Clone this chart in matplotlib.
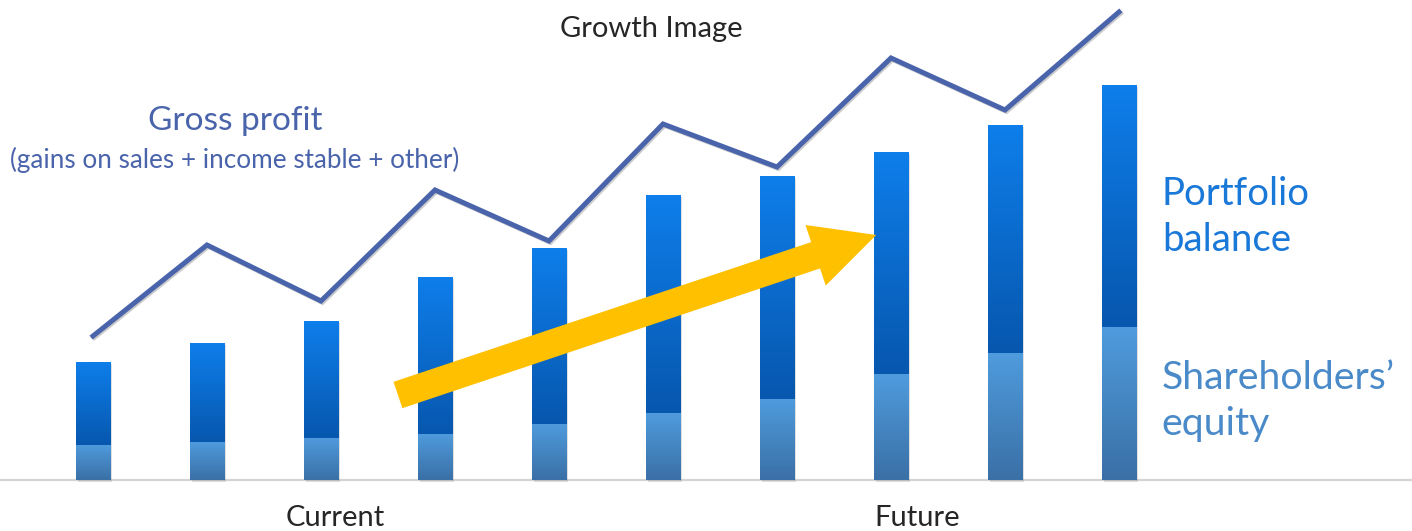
import matplotlib.pyplot as plt
import matplotlib.patheffects as pe
import numpy as np

# values (pixel heights above the baseline)
periods = np.arange(10)
equity = [35, 38, 42, 46, 56, 67, 81, 106, 127, 153]
portfolio_total = [118, 137, 159, 203, 232, 285, 304, 328, 355, 395]
gross_profit = [144, 235, 179, 290, 239, 356, 313, 422, 370, 468]
arrow_from = (2.675, 85)
arrow_to = (6.87, 245)

line_col = '#4A64AC'
font = ['Lato', 'DejaVu Sans']
plt.rcParams['font.family'] = font

fig = plt.figure(figsize=(14.12, 5.31), dpi=100)
ax = fig.add_axes([0, 0, 1, 1])
ax.set_xlim(-93 / 114, (1412 - 93) / 114)
ax.set_ylim(-51, 480)
ax.axis('off')


def grad_fill(bar, c_top, c_bot, zorder):
    x0, y0 = bar.get_x(), bar.get_y()
    w, h = bar.get_width(), bar.get_height()
    t = np.linspace(0, 1, 64)[:, None]
    ct = np.array(plt.matplotlib.colors.to_rgb(c_top))
    cb = np.array(plt.matplotlib.colors.to_rgb(c_bot))
    img = (ct * (1 - t) + cb * t)[:, None, :].repeat(2, axis=1)
    im = ax.imshow(img, extent=[x0, x0 + w, y0, y0 + h], aspect='auto',
                   origin='upper', zorder=zorder, interpolation='bilinear')
    im.set_clip_path(bar)


# baseline
ax.axhline(0, color='#d4d4d4', lw=1.6, zorder=1)

shadow = [pe.SimplePatchShadow(offset=(1.5, -1.5), alpha=0.18, shadow_rgbFace='#555555'), pe.Normal()]
top_part = [t - e for t, e in zip(portfolio_total, equity)]
b1 = ax.bar(periods, equity, width=0.3, color='#4A8ED4', zorder=2, path_effects=shadow)
b2 = ax.bar(periods, top_part, bottom=equity, width=0.3, color='#0B6AD0', zorder=2, path_effects=shadow)
for bar in b1:
    grad_fill(bar, '#4F9BDD', '#3A70A6', 3)
for bar in b2:
    grad_fill(bar, '#0E7EEA', '#0757AE', 3)

ax.plot(periods, gross_profit, color=line_col, lw=3.6, zorder=4, solid_joinstyle='miter',
        path_effects=[pe.SimpleLineShadow(offset=(1, -1), alpha=0.2), pe.Normal()])

ax.annotate('', xy=arrow_to, xytext=arrow_from, zorder=5,
            arrowprops=dict(arrowstyle='simple,head_length=2.3,head_width=2.3,tail_width=1',
                            mutation_scale=20, fc='#FFC000', ec='none', shrinkA=0, shrinkB=0))

ax.text(4.9, 451, 'Growth Image', ha='center', va='center', fontsize=21, color='#262626')
ax.text(1.245, 359, 'Gross profit', ha='center', va='center', fontsize=24, color=line_col)
ax.text(1.245, 320, '(gains on sales + income stable + other)', ha='center', va='center',
        fontsize=18.8, color=line_col)
ax.text(9.376, 286, 'Portfolio', ha='left', va='center', fontsize=27.6, color='#1A78D8')
ax.text(9.376, 240, 'balance', ha='left', va='center', fontsize=27.6, color='#1A78D8')
ax.text(9.376, 102, 'Shareholders\u2019', ha='left', va='center', fontsize=28.3, color='#4A8AC8')
ax.text(9.376, 56, 'equity', ha='left', va='center', fontsize=28.3, color='#4A8AC8')
ax.text(2.124, -38, 'Current', ha='center', va='center', fontsize=21, color='#262626')
ax.text(7.228, -38, 'Future', ha='center', va='center', fontsize=21, color='#262626')

fig.savefig('out.png', dpi=100)
